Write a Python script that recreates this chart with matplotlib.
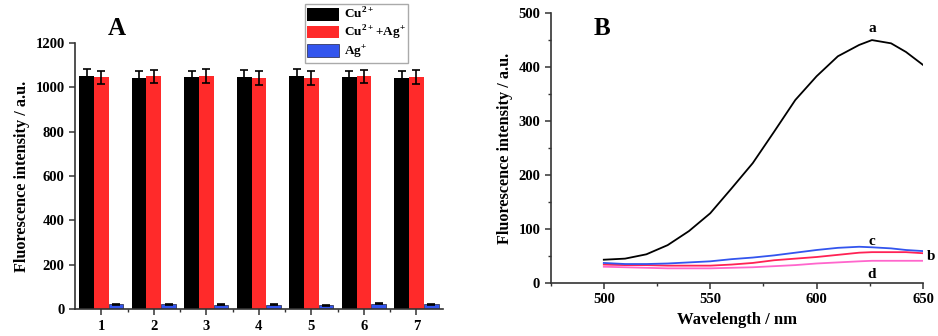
import numpy as np
import matplotlib
matplotlib.use("Agg")
import matplotlib.pyplot as plt
from matplotlib.ticker import MultipleLocator

plt.rcParams['font.family'] = ['Liberation Serif', 'DejaVu Serif']
plt.rcParams['font.weight'] = 'bold'
plt.rcParams['mathtext.fontset'] = 'custom'
plt.rcParams['mathtext.rm'] = 'Liberation Serif:bold'
plt.rcParams['mathtext.bf'] = 'Liberation Serif:bold'

# panel A data
groups = ['1', '2', '3', '4', '5', '6', '7']
cu = [1050, 1041, 1045, 1047, 1050, 1045, 1041]
cu_err = [33, 32, 30, 30, 32, 31, 31]
cuag = [1045, 1050, 1050, 1041, 1042, 1050, 1047]
cuag_err = [30, 30, 32, 32, 31, 30, 30]
ag = [21, 22, 19, 20, 18, 25, 22]
ag_err = [2, 2, 2, 2, 2, 2, 2]

# panel B data
wl = [500, 510, 520, 530, 540, 550, 560, 570, 580, 590, 600, 610, 620, 626, 635, 642, 650]
curve_a = [43, 45, 53, 70, 96, 129, 175, 222, 280, 339, 383, 420, 441, 450, 444, 428, 404]
curve_b = [34, 33, 33, 32, 32, 32, 34, 37, 42, 45, 48, 52, 56, 57, 57, 57, 55]
curve_c = [37, 35, 35, 36, 38, 40, 44, 47, 51, 56, 61, 65, 67, 66, 64, 61, 59]
curve_d = [30, 29, 28, 27, 27, 27, 28, 29, 31, 33, 36, 38, 40, 41, 41, 41, 41]

fig = plt.figure(figsize=(9.38, 3.36), dpi=100)
axA = fig.add_axes([0.080, 0.080, 0.392, 0.792])
axB = fig.add_axes([0.587, 0.158, 0.397, 0.803])

sc = '#333333'
for ax in (axA, axB):
    for s in ['top', 'right']:
        ax.spines[s].set_visible(False)
    for s in ['left', 'bottom']:
        ax.spines[s].set_linewidth(1.2)
        ax.spines[s].set_color(sc)
    ax.tick_params(direction='out', length=4, width=1.1, color=sc, labelsize=10.5)
    ax.tick_params(which='minor', direction='out', length=2.5, width=1.0, color=sc)

# --- A ---
x = np.arange(1, len(groups) + 1)
w = 0.28
ekw = dict(ecolor='black', capsize=3, elinewidth=1.2, capthick=1.2)
axA.bar(x - w, cu, w, yerr=cu_err, color='black', label='Cu$^{2+}$', error_kw=ekw)
axA.bar(x, cuag, w, yerr=cuag_err, color='#ff2a2a', label='Cu$^{2+}$+Ag$^{+}$', error_kw=ekw)
axA.bar(x + w, ag, w, yerr=ag_err, color='#3355ee', edgecolor='#222244', linewidth=0.5,
        label='Ag$^{+}$', error_kw=ekw)
axA.set_xlim(0.5, 7.5)
axA.set_ylim(0, 1200)
axA.set_xticks(x)
axA.set_xticklabels(groups)
axA.set_xticks(x[:-1] + 0.5, minor=True)
axA.yaxis.set_major_locator(MultipleLocator(200))
axA.set_ylabel('Fluorescence intensity / a.u.', fontsize=11.7, fontweight='bold', labelpad=4)
axA.text(0.09, 1.03, 'A', transform=axA.transAxes, fontsize=18, fontweight='bold')
leg = axA.legend(loc='upper left', bbox_to_anchor=(0.325, 0.988),
                 bbox_transform=fig.transFigure, fontsize=9.5,
                 handlelength=2.4, handleheight=1.1, labelspacing=0.12,
                 borderpad=0.2, handletextpad=0.35, borderaxespad=0,
                 fancybox=False, edgecolor='#aaaaaa', framealpha=1)
leg.get_frame().set_linewidth(1.0)

# --- B ---
axB.plot(wl, curve_a, color='black', lw=1.3)
axB.plot(wl, curve_b, color='#ff2255', lw=1.3)
axB.plot(wl, curve_c, color='#3355ee', lw=1.3)
axB.plot(wl, curve_d, color='#ff66cc', lw=1.3)
axB.set_xlim(475, 650)
axB.set_ylim(0, 500)
axB.set_xticks([500, 550, 600, 650])
axB.xaxis.set_minor_locator(MultipleLocator(25))
axB.yaxis.set_major_locator(MultipleLocator(100))
axB.yaxis.set_minor_locator(MultipleLocator(50))
axB.set_xlabel('Wavelength / nm', fontsize=12, fontweight='bold', labelpad=4)
axB.set_ylabel('Fluorescence intensity / a.u.', fontsize=11.7, fontweight='bold', labelpad=4)
axB.text(0.116, 0.918, 'B', transform=axB.transAxes, fontsize=18, fontweight='bold')
axB.text(626, 465, 'a', fontsize=11, fontweight='bold', ha='center')
axB.text(626, 70, 'c', fontsize=11, fontweight='bold', ha='center')
axB.text(652, 42, 'b', fontsize=11, fontweight='bold', ha='left', clip_on=False)
axB.text(626, 10, 'd', fontsize=11, fontweight='bold', ha='center')

fig.savefig('out.png', dpi=100)
